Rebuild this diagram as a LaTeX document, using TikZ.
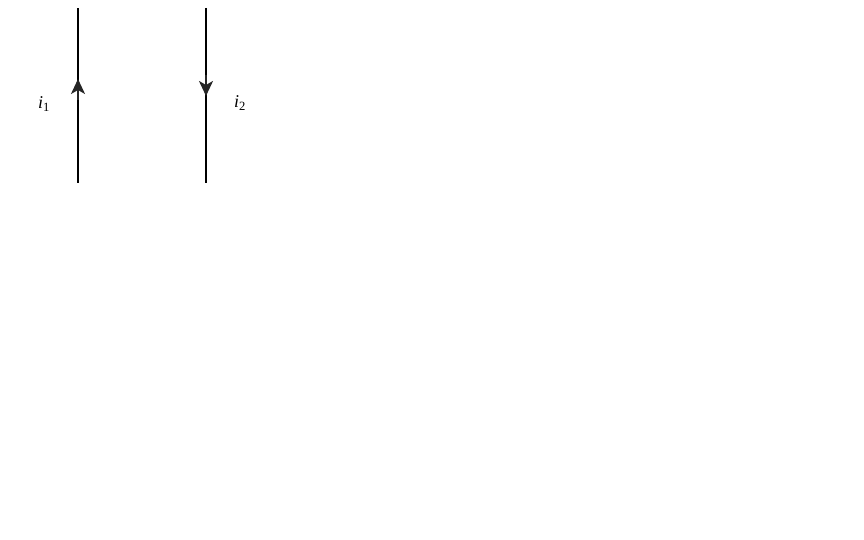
\documentclass[tikz,border=0pt]{standalone}
\usepackage{fontspec}
\setmainfont{Liberation Serif}
\usetikzlibrary{arrows.meta}
\begin{document}
\begin{tikzpicture}[x=1pt,y=-1pt,
  wire/.style={line width=2pt, black},
  tipmark/.style={-{Stealth[length=15pt,width=14pt,inset=4pt]}, line width=2pt, draw=black!85, fill=black!85},
  lbl/.style={font=\fontsize{18}{20}\selectfont, inner sep=0pt}]
\useasboundingbox (0,0) rectangle (864,540);
\coordinate (a1) at (78,183);
\coordinate (a2) at (78,8);
\coordinate (am) at (78,79);
\coordinate (b1) at (206,8);
\coordinate (b2) at (206,183);
\coordinate (bm) at (206,96);
\draw[wire] (a1) -- (a2);
\draw[wire] (b1) -- (b2);
\draw[tipmark] (78,100) -- (am);
\draw[tipmark] (206,75) -- (bm);
\node[lbl] (i1) at (44,104) {\textit{i}\textsubscript{1}};
\node[lbl] (i2) at (240,103) {\textit{i}\textsubscript{2}};
\end{tikzpicture}
\end{document}
